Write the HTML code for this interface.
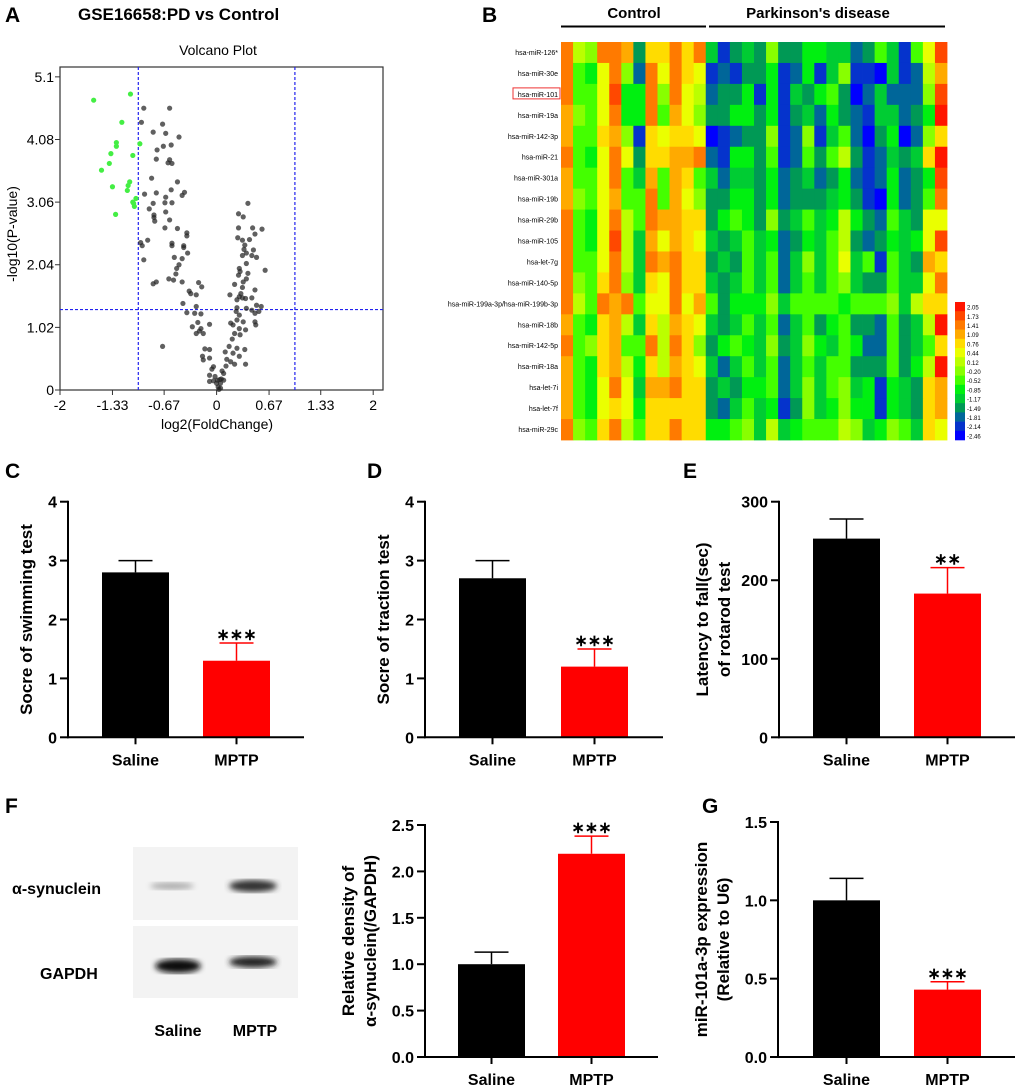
<!DOCTYPE html>
<html><head><meta charset="utf-8"><style>
html,body{margin:0;padding:0;background:#fff}
svg{display:block;font-family:"Liberation Sans",Arial,sans-serif}
.b{font-weight:bold}
</style></head><body>
<svg id="fig" width="1020" height="1091" viewBox="0 0 1020 1091" xmlns="http://www.w3.org/2000/svg">
<defs>
<filter id="blur1"><feGaussianBlur stdDeviation="3"/></filter>
</defs>
<text x="5" y="22" font-size="21" class="b">A</text>
<text x="78" y="20" font-size="17" class="b">GSE16658:PD vs Control</text>
<text x="218" y="55" font-size="14" text-anchor="middle">Volcano Plot</text>
<g id="volcano"></g>
<text x="482" y="22" font-size="21" class="b">B</text>
<text x="634" y="18" font-size="15" class="b" text-anchor="middle">Control</text>
<text x="818" y="18" font-size="15" class="b" text-anchor="middle">Parkinson's disease</text>
<line x1="561" y1="26.5" x2="706" y2="26.5" stroke="#000" stroke-width="2"/>
<line x1="709" y1="26.5" x2="945" y2="26.5" stroke="#000" stroke-width="2"/>
<g id="heatmap"></g>
<g id="bars"></g>
<text x="5" y="478" font-size="21" class="b">C</text>
<text x="367" y="478" font-size="21" class="b">D</text>
<text x="683" y="478" font-size="21" class="b">E</text>
<text x="5" y="813" font-size="21" class="b">F</text>
<text x="702" y="813" font-size="21" class="b">G</text>
<g>
<rect x="133" y="847" width="165" height="73" fill="#f3f3f3"/>
<rect x="133" y="926" width="165" height="72" fill="#f3f3f3"/>
<ellipse cx="172" cy="886" rx="22" ry="3.5" fill="#aaa" filter="url(#blur1)"/>
<ellipse cx="253" cy="886" rx="24" ry="6" fill="#333" filter="url(#blur1)"/>
<ellipse cx="178" cy="966" rx="23" ry="7" fill="#111" filter="url(#blur1)"/>
<ellipse cx="253" cy="962" rx="24" ry="5.5" fill="#222" filter="url(#blur1)"/>
<text x="12" y="894" font-size="16" class="b">α-synuclein</text>
<text x="40" y="979" font-size="16" class="b">GAPDH</text>
<text x="178" y="1036" font-size="16" class="b" text-anchor="middle">Saline</text>
<text x="255" y="1036" font-size="16" class="b" text-anchor="middle">MPTP</text>
</g>
</svg>
<script>
// ---------- Volcano data ----------
const volcanoGreenX=[-1.57,-1.10,-1.21,-1.28,-1.28,-0.98,-1.35,-1.07,-1.37,-1.47,-1.33,-1.11,-1.13,-1.14,-1.07,-1.05,-1.03,-1.29,-1.06];
const volcanoGreenY=[4.72,4.82,4.36,4.03,3.97,4.01,3.85,3.82,3.69,3.58,3.31,3.39,3.33,3.25,3.06,2.99,3.12,2.86,3.04];
const volcanoGrayX=[-0.93,-0.60,-0.96,-0.69,-0.81,-0.65,-0.48,-0.76,-0.68,-0.58,-0.77,-0.62,-0.60,-0.57,-0.83,-0.50,-0.58,-0.41,-0.44,-0.92,-0.77,-0.81,-0.66,-0.57,-0.65,-0.86,-0.80,-0.80,-0.79,-0.65,-0.60,-0.66,-0.50,-0.38,-0.38,-0.97,-0.88,-0.95,-0.57,-0.42,-0.42,-0.57,-0.37,-0.93,-0.54,-0.44,-0.48,-0.51,-0.52,-0.61,-0.55,-0.81,-0.77,-0.44,-0.23,-0.19,-0.35,-0.33,-0.26,-0.43,-0.26,-0.38,-0.20,-0.28,-0.31,-0.24,-0.09,-0.20,-0.22,-0.17,-0.26,-0.69,-0.15,-0.09,-0.18,-0.09,-0.17,-0.04,-0.06,-0.09,-0.02,-0.09,-0.04,0.01,0.04,0.00,0.02,0.03,0.05,
0.40,0.28,0.34,0.28,0.46,0.58,0.49,0.27,0.33,0.42,0.36,0.35,0.47,0.38,0.33,0.45,0.51,0.38,0.29,0.30,0.62,0.40,0.28,0.38,0.23,0.33,0.34,0.31,0.49,0.17,0.29,0.33,0.45,0.26,0.37,0.51,0.57,0.26,0.38,0.45,0.25,0.54,0.29,0.49,0.18,0.26,0.34,0.49,0.21,0.29,0.37,0.50,0.23,0.30,0.20,0.16,0.26,0.36,0.11,0.21,0.29,0.13,0.18,0.23,0.37,0.12,0.07,0.09,0.06,0.05,0.09];
const volcanoGrayY=[4.59,4.59,4.36,4.33,4.20,4.18,4.12,3.91,3.97,3.99,3.76,3.70,3.75,3.69,3.45,3.39,3.26,3.22,3.17,3.19,3.21,3.04,3.05,3.05,3.14,2.95,2.85,2.81,2.75,2.90,2.77,2.64,2.63,2.56,2.51,2.40,2.44,2.35,2.39,2.35,2.32,2.35,2.23,2.12,2.16,2.14,2.04,1.98,1.89,1.81,1.79,1.73,1.76,1.76,1.75,1.68,1.61,1.57,1.55,1.41,1.36,1.26,1.24,1.25,1.03,1.10,1.07,1.00,0.96,0.92,0.92,0.71,0.67,0.66,0.55,0.52,0.49,0.38,0.34,0.24,0.22,0.14,0.15,0.16,0.17,0.11,0.05,0.01,0.03,
3.04,2.87,2.82,2.64,2.64,2.62,2.54,2.48,2.44,2.45,2.36,2.29,2.28,2.23,2.19,2.19,2.16,2.06,1.98,1.93,1.95,1.90,1.87,1.81,1.72,1.67,1.76,1.57,1.63,1.55,1.52,1.50,1.50,1.47,1.49,1.38,1.36,1.34,1.33,1.30,1.28,1.28,1.22,1.25,1.09,1.14,1.11,1.11,1.06,1.00,0.98,1.06,0.92,0.90,0.83,0.71,0.68,0.66,0.62,0.60,0.55,0.50,0.46,0.42,0.42,0.39,0.31,0.27,0.18,0.11,0.16];
const volcanoXTicks=[-2,-1.33,-0.67,0,0.67,1.33,2];
const volcanoXTickLabels=["-2","-1.33","-0.67","0","0.67","1.33","2"];
const volcanoYTicks=[0,1.02,2.04,3.06,4.08,5.1];
const volcanoYTickLabels=["0","1.02","2.04","3.06","4.08","5.1"];

// ---------- Heatmap data ----------
const heatRows=["hsa-miR-126*","hsa-miR-30e","hsa-miR-101","hsa-miR-19a","hsa-miR-142-3p","hsa-miR-21","hsa-miR-301a","hsa-miR-19b","hsa-miR-29b","hsa-miR-105","hsa-let-7g","hsa-miR-140-5p","hsa-miR-199a-3p/hsa-miR-199b-3p","hsa-miR-18b","hsa-miR-142-5p","hsa-miR-18a","hsa-let-7i","hsa-let-7f","hsa-miR-29c"];
const heatLevels=[2.05,1.73,1.41,1.09,0.76,0.44,0.12,-0.20,-0.52,-0.85,-1.17,-1.49,-1.81,-2.14,-2.46];
const heatValues=[
[2,6,7,2,2,3,11,4,4,2,4,2, 10,13,11,10,11,7,11,11,9,9,10,10,12,11,8,10,13,8,5,1],
[2,8,9,5,2,7,12,2,5,2,4,5, 13,12,13,11,11,9,13,12,9,13,10,7,13,13,14,10,13,12,6,3],
[2,8,8,5,1,9,9,2,7,2,5,6, 12,11,11,9,13,9,13,10,11,9,8,11,14,12,10,12,12,12,7,1],
[3,7,8,5,2,9,9,2,8,3,5,7, 11,11,9,9,11,9,13,11,10,12,9,11,12,13,10,10,12,11,9,0],
[3,8,8,4,3,7,13,4,5,4,4,5, 14,13,12,11,11,7,13,12,7,13,10,8,12,14,11,9,14,12,7,4],
[2,8,9,5,2,5,11,4,4,3,3,2, 12,13,9,9,11,8,13,12,8,11,8,6,11,13,12,10,11,10,4,0],
[3,8,8,5,2,8,10,3,8,3,4,8, 10,12,10,10,11,9,12,11,10,12,11,9,12,13,12,9,12,11,9,1],
[3,7,8,5,3,8,8,2,8,3,5,7, 11,11,9,9,11,9,12,11,11,11,10,9,11,13,14,9,12,11,8,2],
[2,8,9,5,2,6,8,2,3,3,4,4, 11,9,8,9,11,7,11,10,8,10,9,6,9,11,12,8,10,11,5,5],
[2,8,9,5,1,6,10,3,5,3,4,5, 10,11,10,8,10,9,12,11,9,10,8,6,11,12,11,9,10,9,5,1],
[2,8,8,5,2,6,10,2,3,2,4,4, 11,10,11,8,10,8,12,10,7,10,8,5,10,8,13,8,10,11,3,4],
[2,7,8,4,2,7,10,4,5,2,4,4, 10,11,10,8,10,8,12,10,8,10,8,7,10,11,11,8,10,10,5,2],
[2,6,8,2,3,2,8,5,5,2,5,3, 8,11,9,9,9,7,10,8,8,8,8,9,8,8,8,7,10,6,4,4],
[3,8,9,4,3,6,10,4,6,3,4,5, 10,11,10,8,10,8,12,10,8,11,9,8,11,11,12,8,11,10,6,0],
[2,8,7,4,3,8,8,2,6,2,4,7, 11,9,8,9,10,7,11,10,7,9,10,8,9,12,12,8,11,10,8,4],
[3,8,9,4,3,6,9,4,6,3,4,5, 10,12,10,8,10,8,12,10,8,10,8,8,11,11,11,8,11,9,6,0],
[3,8,9,5,2,5,10,3,3,2,4,4, 11,10,11,9,9,8,12,10,7,10,8,7,10,9,13,9,10,11,4,3],
[3,8,9,5,4,5,9,4,4,4,4,4, 11,12,10,8,10,9,13,11,7,10,9,7,9,9,13,9,10,11,4,3],
[2,7,8,4,2,6,8,4,4,2,4,4, 9,9,8,7,10,6,10,9,8,8,8,6,7,10,9,7,8,10,4,5]];

// ---------- Bar chart data ----------
const barCategories=["Saline","MPTP"];
const swimMeans=[2.8,1.3], swimErrs=[0.2,0.3], swimStars=["","***"], swimTicks=[0,1,2,3,4];
const tractionMeans=[2.7,1.2], tractionErrs=[0.3,0.3], tractionStars=["","***"], tractionTicks=[0,1,2,3,4];
const rotarodMeans=[253,183], rotarodErrs=[25,33], rotarodStars=["","**"], rotarodTicks=[0,100,200,300];
const synMeans=[1.0,2.19], synErrs=[0.13,0.19], synStars=["","***"], synTicks=[0,0.5,1.0,1.5,2.0,2.5];
const mirMeans=[1.0,0.43], mirErrs=[0.14,0.05], mirStars=["","***"], mirTicks=[0,0.5,1.0,1.5];

const NS="http://www.w3.org/2000/svg";
function mk(parent,tag,attrs,text){const e=document.createElementNS(NS,tag);for(const k in attrs)e.setAttribute(k,attrs[k]);if(text!==undefined)e.textContent=text;parent.appendChild(e);return e;}

// ---------- Volcano ----------
(function(){
  const g=document.getElementById('volcano');
  const L=60,R=383,T=67,B=390;
  const sx=v=>60+(v+2)*78.3, sy=v=>390-v*61.4;
  const frame=mk(g,'rect',{x:L,y:T,width:R-L,height:B-T,fill:'none',stroke:'#333','stroke-width':1.2});
  
  
  volcanoXTicks.forEach((t,i)=>{
    mk(g,'line',{x1:sx(t),y1:B,x2:sx(t),y2:B+5,stroke:'#333'});
    const tl=mk(g,'text',{x:sx(t),y:B+20,'font-size':14,'text-anchor':'middle'},volcanoXTickLabels[i]);
    
    
  });
  volcanoYTicks.forEach((t,i)=>{
    mk(g,'line',{x1:L-5,y1:sy(t),x2:L,y2:sy(t),stroke:'#333'});
    const tl=mk(g,'text',{x:L-6,y:sy(t)+5,'font-size':14,'text-anchor':'end'},volcanoYTickLabels[i]);
    
    
  });
  const xl=mk(g,'text',{x:217,y:429,'font-size':14,'text-anchor':'middle'},'log2(FoldChange)');
  
  
  const yl=mk(g,'text',{x:0,y:0,'font-size':14,'text-anchor':'middle',transform:'translate(17,234) rotate(-90)'},'-log10(P-value)');
  
  
  [-1,1].forEach(v=>{const d=mk(g,'line',{x1:sx(v),y1:T,x2:sx(v),y2:B,stroke:'#2222ee','stroke-width':1.2,'stroke-dasharray':'3,2'});
    
    });
  const h=mk(g,'line',{x1:L,y1:sy(1.31),x2:R,y2:sy(1.31),stroke:'#2222ee','stroke-width':1.2,'stroke-dasharray':'3,2'});
  
  
  volcanoGrayX.forEach((x,i)=>{const c=mk(g,'circle',{cx:sx(x),cy:sy(volcanoGrayY[i]),r:2.6,fill:'#222','fill-opacity':0.72});
    
    });
  volcanoGreenX.forEach((x,i)=>{const c=mk(g,'circle',{cx:sx(x),cy:sy(volcanoGreenY[i]),r:2.6,fill:'#44ee44'});
    
    });
})();

// ---------- Heatmap ----------
(function(){
  const g=document.getElementById('heatmap');
  const colors=['#ff1500','#ff4800','#ff7a00','#ffaa00','#ffdc00','#eaff00','#bbff00','#88ff00','#44ff00','#00f010','#00cc33','#009955','#006699','#0533cc','#0000ff'];
  const x0=561,x1=947,y0=42,y1=440;
  const ncol=heatValues[0].length, nrow=heatRows.length;
  const cw=(x1-x0)/ncol, ch=(y1-y0)/nrow;
  heatValues.forEach((row,r)=>{
    row.forEach((lv,c)=>{
      const cell=mk(g,'rect',{x:x0+c*cw,y:y0+r*ch,width:cw+0.4,height:ch+0.4,fill:colors[lv]});
      
      
    });
    const t=mk(g,'text',{x:558,y:y0+r*ch+ch/2+2.5,'font-size':7,'text-anchor':'end'},heatRows[r]);
    
    
  });
  const box=mk(g,'rect',{x:513,y:y0+2*ch+4,width:47,height:11,fill:'none',stroke:'#e33','stroke-width':1});
  
  
  const ly0=302,lh=(440-302)/heatLevels.length;
  heatLevels.forEach((v,i)=>{
    const s=mk(g,'rect',{x:955,y:ly0+i*lh,width:10,height:lh+0.3,fill:colors[i]});
    
    
    const t=mk(g,'text',{x:967,y:ly0+i*lh+lh/2+3,'font-size':6},v.toFixed(2));
    
    
  });
})();

// ---------- Bar charts ----------
function barChart(cfg){
  const g=document.getElementById('bars');
  const {ax,top,bot,xend,bars,means,errs,stars,ticks,tickFmt,label,name}=cfg;
  const max=ticks[ticks.length-1];
  const sy=v=>bot-(v/max)*(bot-top);
  const grp=mk(g,'g',{});
  
  
  means.forEach((m,i)=>{
    const [bx0,bx1]=bars[i];const col=i===0?'#000':'#ff0000';
    const r=mk(grp,'rect',{x:bx0,y:sy(m),width:bx1-bx0,height:bot-sy(m),fill:col});
    
    
    const cx=(bx0+bx1)/2, ey=sy(m+errs[i]);
    mk(grp,'line',{x1:cx,y1:sy(m),x2:cx,y2:ey,stroke:col,'stroke-width':1.5});
    const cap=mk(grp,'line',{x1:cx-17,y1:ey,x2:cx+17,y2:ey,stroke:col,'stroke-width':1.5});
    
    
    if(stars[i]){const s=mk(grp,'text',{x:cx,y:ey-3,'font-size':16,'text-anchor':'middle',class:'b'},stars[i].replace(/\*/g,'∗'));
      
      }
    mk(grp,'line',{x1:cx,y1:bot,x2:cx,y2:bot+7,stroke:'#000','stroke-width':2});
    const xl=mk(grp,'text',{x:cx,y:bot+28,'font-size':16,'text-anchor':'middle',class:'b'},barCategories[i]);
    
    
  });
  mk(grp,'line',{x1:ax,y1:top-1,x2:ax,y2:bot+1,stroke:'#000','stroke-width':2});
  mk(grp,'line',{x1:ax-1,y1:bot,x2:xend,y2:bot,stroke:'#000','stroke-width':2});
  ticks.forEach(t=>{
    mk(grp,'line',{x1:ax-8,y1:sy(t),x2:ax,y2:sy(t),stroke:'#000','stroke-width':2});
    const tl=mk(grp,'text',{x:ax-11,y:sy(t)+6,'font-size':16,'text-anchor':'end',class:'b'},tickFmt(t));
    
    
  });
  const cy=(top+bot)/2;
  const base=label.length>1?ax-66:ax-42;
  label.forEach((ln,i)=>{
    const off=(i-(label.length-1)/2)*22;
    const yl=mk(grp,'text',{x:0,y:0,'font-size':17,'text-anchor':'middle',class:'b',transform:`translate(${base+off+6},${cy}) rotate(-90)`},ln);
    
    
  });
}
const int=t=>String(t), dec=t=>t.toFixed(1);
barChart({name:'swimming-chart',ax:68,top:501.7,bot:737.3,xend:304,bars:[[102,169],[203,270]],means:swimMeans,errs:swimErrs,stars:swimStars,ticks:swimTicks,tickFmt:int,label:['Socre of swimming test']});
barChart({name:'traction-chart',ax:425,top:501.7,bot:737.3,xend:663,bars:[[459,526],[561,628]],means:tractionMeans,errs:tractionErrs,stars:tractionStars,ticks:tractionTicks,tickFmt:int,label:['Socre of traction test']});
barChart({name:'rotarod-chart',ax:779,top:501.7,bot:737.3,xend:1015,bars:[[813,880],[914,981]],means:rotarodMeans,errs:rotarodErrs,stars:rotarodStars,ticks:rotarodTicks,tickFmt:int,label:['Latency to fall(sec)','of rotarod test']});
barChart({name:'synuclein-density-chart',ax:425,top:825,bot:1057,xend:658,bars:[[458,525],[558,625]],means:synMeans,errs:synErrs,stars:synStars,ticks:synTicks,tickFmt:dec,label:['Relative density of','α-synuclein(/GAPDH)']});
barChart({name:'mir101-expression-chart',ax:778,top:822,bot:1057,xend:1015,bars:[[813,880],[914,981]],means:mirMeans,errs:mirErrs,stars:mirStars,ticks:mirTicks,tickFmt:dec,label:['miR-101a-3p expression','(Relative to U6)']});
</script>
</body></html>
